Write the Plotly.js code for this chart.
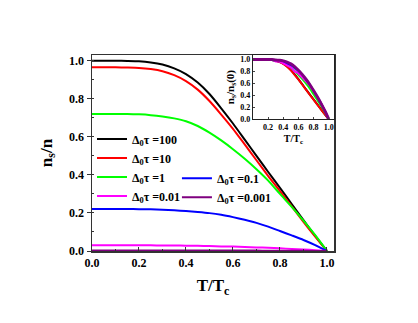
<!DOCTYPE html>
<html>
<head>
<meta charset="utf-8">
<script src="https://cdn.plot.ly/plotly-3.0.1.min.js"></script>
<style>
  html, body { margin: 0; padding: 0; background: #fff; }
  #chart { width: 418px; height: 323px; }
</style>
</head>
<body>
<div id="chart"></div>
<script>
// reduced temperature T/Tc
var tValues = [0, 0.05, 0.1, 0.15, 0.2, 0.25, 0.3, 0.35, 0.4, 0.45, 0.5,
    0.55, 0.6, 0.65, 0.7, 0.75, 0.8, 0.85, 0.9, 0.95, 1.0];

// superfluid fraction ns/n
var ns100 = [1.0, 1.0, 1.0, 0.999, 0.997, 0.991, 0.98, 0.96, 0.93, 0.885, 0.825,
    0.75, 0.67, 0.585, 0.5, 0.415, 0.332, 0.247, 0.162, 0.08, 0];
var ns10 = [0.965, 0.965, 0.965, 0.964, 0.962, 0.956, 0.945, 0.924, 0.893, 0.848, 0.788,
    0.717, 0.642, 0.56, 0.477, 0.394, 0.315, 0.234, 0.153, 0.075, 0];
var ns1 = [0.72, 0.72, 0.72, 0.72, 0.718, 0.714, 0.707, 0.697, 0.682, 0.657, 0.622,
    0.581, 0.535, 0.485, 0.43, 0.37, 0.3, 0.232, 0.16, 0.083, 0];
var ns01 = [0.221, 0.221, 0.221, 0.221, 0.22, 0.219, 0.217, 0.214, 0.21, 0.205, 0.199,
    0.19, 0.178, 0.164, 0.148, 0.128, 0.105, 0.082, 0.058, 0.031, 0];
var ns001 = [0.03, 0.03, 0.03, 0.03, 0.03, 0.03, 0.029, 0.029, 0.028, 0.027, 0.026,
    0.024, 0.023, 0.021, 0.019, 0.017, 0.014, 0.011, 0.008, 0.004, 0];
var ns0001 = [0.003, 0.003, 0.003, 0.003, 0.003, 0.003, 0.00297, 0.00296, 0.00293, 0.00287, 0.00278,
    0.00264, 0.00246, 0.00225, 0.00201, 0.00174, 0.00144, 0.00113, 0.00078, 0.00041, 0];

var seriesNames = ['\u0394<sub>0</sub>\u03c4 =100', '\u0394<sub>0</sub>\u03c4 =10', '\u0394<sub>0</sub>\u03c4 =1',
    '\u0394<sub>0</sub>\u03c4 =0.1', '\u0394<sub>0</sub>\u03c4 =0.01', '\u0394<sub>0</sub>\u03c4 =0.001'];
var seriesData = [ns100, ns10, ns1, ns01, ns001, ns0001];
var seriesColors = ['#000000', '#ff0000', '#00ff00', '#0000ff', '#ff00ff', '#7f007f'];
var seriesLegend = ['legend', 'legend', 'legend', 'legend2', 'legend', 'legend2'];

var serif = 'Liberation Serif, Times New Roman, serif';

function normalize(arr) {
    return arr.map(function(v) { return v / arr[0]; });
}

var traces = [];
for (let i = 0; i < seriesData.length; i++) {
    traces.push({
        x: tValues,
        y: seriesData[i],
        name: seriesNames[i],
        mode: 'lines',
        type: 'scatter',
        line: {color: seriesColors[i], width: 2, shape: 'spline', smoothing: 0.6},
        legend: seriesLegend[i]
    });
}
// inset: curves normalised to their T=0 value
for (let i = 0; i < seriesData.length; i++) {
    traces.push({
        x: tValues,
        y: normalize(seriesData[i]),
        mode: 'lines',
        type: 'scatter',
        xaxis: 'x2',
        yaxis: 'y2',
        showlegend: false,
        line: {color: seriesColors[i], width: i === 5 ? 3 : 2, shape: 'spline', smoothing: 0.6}
    });
}

var tickFont = {family: serif, size: 12, color: '#000', weight: 'bold'};
var insetFont = {family: serif, size: 8, color: '#000', weight: 'bold'};
var legendFont = {family: serif, size: 12, color: '#000', weight: 'bold'};

var layout = {
    width: 418,
    height: 323,
    margin: {l: 92, r: 84, t: 55, b: 72},
    paper_bgcolor: '#fff',
    plot_bgcolor: '#fff',
    showlegend: true,
    xaxis: {
        range: [0, 1.03],
        dtick: 0.2,
        tickformat: '.1f',
        ticks: 'inside',
        ticklen: 4,
        tickcolor: '#333',
        minor: {dtick: 0.1, ticks: 'inside', ticklen: 2, tickcolor: '#333'},
        showline: true,
        mirror: true,
        linecolor: '#333',
        linewidth: 1.5,
        showgrid: false,
        zeroline: false,
        tickfont: tickFont,
        title: {text: 'T/T<sub>c</sub>', font: {family: serif, size: 17, color: '#000', weight: 'bold'}, standoff: 10}
    },
    yaxis: {
        range: [0, 1.03],
        dtick: 0.2,
        tickformat: '.1f',
        ticks: 'outside',
        ticklen: 4,
        tickcolor: '#333',
        minor: {dtick: 0.1, ticks: 'inside', ticklen: 2, tickcolor: '#333'},
        showline: true,
        mirror: true,
        linecolor: '#333',
        linewidth: 1.5,
        showgrid: false,
        zeroline: false,
        tickfont: tickFont,
        title: {text: 'n<sub>s</sub>/n', font: {family: serif, size: 17, color: '#000', weight: 'bold'}, standoff: 12}
    },
    xaxis2: {
        domain: [0.665, 1],
        anchor: 'y2',
        range: [0, 1.07],
        tickvals: [0.2, 0.4, 0.6, 0.8, 1.0],
        tickformat: '.1f',
        ticks: 'inside',
        ticklen: 2,
        showline: true,
        mirror: true,
        linecolor: '#222',
        linewidth: 1.2,
        showgrid: false,
        zeroline: false,
        tickfont: insetFont,
        title: {text: 'T/T<sub>c</sub>', font: {family: serif, size: 10, color: '#000', weight: 'bold'}, standoff: 4}
    },
    yaxis2: {
        domain: [0.673, 1],
        anchor: 'x2',
        range: [0, 1.075],
        dtick: 0.2,
        tickformat: '.1f',
        ticks: 'inside',
        ticklen: 2,
        showline: true,
        mirror: true,
        linecolor: '#222',
        linewidth: 1.2,
        showgrid: false,
        zeroline: false,
        tickfont: insetFont,
        title: {text: 'n<sub>s</sub>/n<sub>s</sub>(0)', font: {family: serif, size: 11, color: '#000', weight: 'bold'}, standoff: 3}
    },
    legend: {
        x: 0.0, y: 0.645, xanchor: 'left', yanchor: 'top',
        bgcolor: 'rgba(0,0,0,0)', borderwidth: 0,
        font: legendFont, tracegroupgap: 0
    },
    legend2: {
        x: 0.351, y: 0.445, xanchor: 'left', yanchor: 'top',
        bgcolor: 'rgba(0,0,0,0)', borderwidth: 0,
        font: legendFont, tracegroupgap: 0
    }
};

Plotly.newPlot('chart', traces, layout, {displayModeBar: false, staticPlot: true});
</script>
</body>
</html>
